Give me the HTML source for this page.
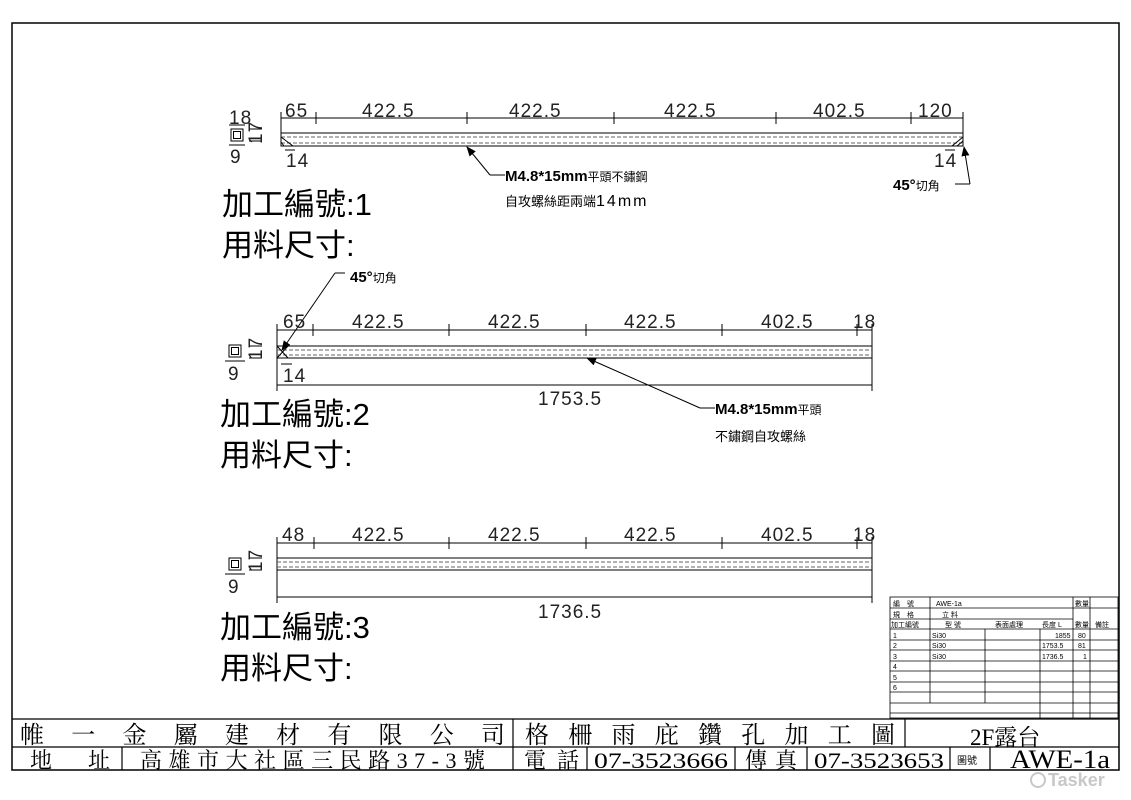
<!DOCTYPE html>
<html><head><meta charset="utf-8"><style>
html,body{margin:0;padding:0;background:#fff;}
svg{display:block;}
text{font-family:"Liberation Sans","Noto Sans CJK TC",sans-serif;fill:#000;}
.dim{font-size:19px;font-weight:300;letter-spacing:1px;fill:#222;}
.big{font-size:31px;font-family:"Liberation Sans","Noto Sans CJK TC",sans-serif;}
.serif{font-family:"Liberation Serif","Noto Serif CJK SC",serif;}
.t{font-size:7px;}
</style></head><body>
<svg width="1131" height="800" viewBox="0 0 1131 800" xmlns="http://www.w3.org/2000/svg">
<defs>
<marker id="ar" markerWidth="10" markerHeight="8" refX="9" refY="4" orient="auto" markerUnits="userSpaceOnUse"><path d="M0,0 L10,4 L0,8 z" fill="#000"/></marker>
</defs>
<rect x="12" y="23" width="1107" height="747" fill="none" stroke="#000" stroke-width="1.5"/>

<!-- PART 1 -->
<g stroke="#000" stroke-width="1" fill="none">
<line x1="281" y1="118" x2="963" y2="118"/>
<line x1="281" y1="112" x2="281" y2="146"/><line x1="316" y1="112" x2="316" y2="124"/>
<line x1="467" y1="112" x2="467" y2="124"/><line x1="614" y1="112" x2="614" y2="124"/>
<line x1="776" y1="112" x2="776" y2="124"/><line x1="911" y1="112" x2="911" y2="124"/>
<line x1="963" y1="112" x2="963" y2="146"/>
<rect x="281" y="133" width="682" height="13"/>
<line x1="281" y1="137" x2="963" y2="137" stroke-dasharray="4,2" stroke="#666"/>
<line x1="281" y1="143" x2="963" y2="143" stroke-dasharray="4,2" stroke="#666"/>
<path d="M281,137 L293,146 M952,146 L963,137 M284,146 L281,142 M957,146 L963,141" />
<line x1="285" y1="150" x2="295" y2="150"/><line x1="945" y1="150" x2="955" y2="150"/>
<rect x="231" y="129" width="12" height="12"/><rect x="233.5" y="131.5" width="7" height="7"/>
<line x1="229" y1="125" x2="245" y2="125"/><line x1="229" y1="145" x2="245" y2="145"/>
<line x1="249" y1="129" x2="262" y2="129"/><line x1="249" y1="141" x2="262" y2="141"/>
<line x1="505" y1="175" x2="490" y2="175"/>
<line x1="490" y1="175" x2="467" y2="147" marker-end="url(#ar)"/>
<line x1="955" y1="184" x2="970" y2="184"/>
<line x1="970" y1="184" x2="964" y2="147" marker-end="url(#ar)"/>
</g>
<text class="dim" x="285" y="117">65</text>
<text class="dim" x="362" y="117">422.5</text>
<text class="dim" x="509" y="117">422.5</text>
<text class="dim" x="664" y="117">422.5</text>
<text class="dim" x="813" y="117">402.5</text>
<text class="dim" x="918" y="117">120</text>
<text class="dim" x="229" y="124" font-size="18">18</text>
<text class="dim" x="230" y="163" font-size="18">9</text>
<text class="dim" font-size="18" transform="translate(262 144) rotate(-90)">17</text>
<text class="dim" x="286" y="167">14</text>
<text class="dim" x="934" y="167">14</text>
<text x="505" y="181" font-size="15" font-weight="bold">M4.8*15mm<tspan font-size="12" font-weight="normal">平頭不鏽鋼</tspan></text>
<text x="505" y="206" font-size="13">自攻螺絲距兩端<tspan font-size="16" letter-spacing="2">14mm</tspan></text>
<text x="893" y="190" font-size="15" font-weight="bold">45°<tspan font-size="12" font-weight="normal">切角</tspan></text>
<text class="big" x="222" y="215">加工編號:1</text>
<text class="big" x="222" y="256">用料尺寸:</text>

<!-- PART 2 -->
<g stroke="#000" stroke-width="1" fill="none">
<line x1="277" y1="330" x2="872" y2="330"/>
<line x1="277" y1="324" x2="277" y2="391"/><line x1="313" y1="324" x2="313" y2="336"/>
<line x1="449" y1="324" x2="449" y2="336"/><line x1="586" y1="324" x2="586" y2="336"/>
<line x1="722" y1="324" x2="722" y2="336"/><line x1="857" y1="324" x2="857" y2="336"/>
<line x1="872" y1="324" x2="872" y2="391"/>
<line x1="277" y1="385" x2="872" y2="385"/>
<rect x="277" y="346" width="595" height="12"/>
<line x1="277" y1="350" x2="872" y2="350" stroke-dasharray="4,2" stroke="#666"/>
<line x1="277" y1="355" x2="872" y2="355" stroke-dasharray="4,2" stroke="#666"/>
<path d="M277,346 L288,358 M277,358 L288,346"/>
<line x1="281" y1="364" x2="292" y2="364"/>
<rect x="229" y="345" width="12" height="12"/><rect x="231.5" y="347.5" width="7" height="7"/>
<line x1="225" y1="361" x2="245" y2="361"/>
<line x1="249" y1="346" x2="262" y2="346"/><line x1="249" y1="358" x2="262" y2="358"/>
<line x1="345" y1="273" x2="335" y2="273"/>
<line x1="335" y1="273" x2="282" y2="350" marker-end="url(#ar)"/>
<line x1="700" y1="408" x2="715" y2="408"/>
<line x1="700" y1="408" x2="587" y2="358" marker-end="url(#ar)"/>
</g>
<text class="dim" x="283" y="328">65</text>
<text class="dim" x="352" y="328">422.5</text>
<text class="dim" x="488" y="328">422.5</text>
<text class="dim" x="624" y="328">422.5</text>
<text class="dim" x="761" y="328">402.5</text>
<text class="dim" x="853" y="328">18</text>
<text class="dim" x="538" y="405">1753.5</text>
<text class="dim" x="283" y="382">14</text>
<text class="dim" x="228" y="380" font-size="18">9</text>
<text class="dim" font-size="18" transform="translate(262 360) rotate(-90)">17</text>
<text x="350" y="282" font-size="15" font-weight="bold">45°<tspan font-size="12" font-weight="normal">切角</tspan></text>
<text x="715" y="414" font-size="15" font-weight="bold">M4.8*15mm<tspan font-size="12" font-weight="normal">平頭</tspan></text>
<text x="715" y="441" font-size="13">不鏽鋼自攻螺絲</text>
<text class="big" x="220" y="425">加工編號:2</text>
<text class="big" x="220" y="466">用料尺寸:</text>

<!-- PART 3 -->
<g stroke="#000" stroke-width="1" fill="none">
<line x1="277" y1="543" x2="872" y2="543"/>
<line x1="277" y1="537" x2="277" y2="603"/><line x1="314" y1="537" x2="314" y2="549"/>
<line x1="449" y1="537" x2="449" y2="549"/><line x1="586" y1="537" x2="586" y2="549"/>
<line x1="722" y1="537" x2="722" y2="549"/><line x1="857" y1="537" x2="857" y2="549"/>
<line x1="872" y1="537" x2="872" y2="603"/>
<line x1="277" y1="597" x2="872" y2="597"/>
<rect x="277" y="558" width="595" height="12"/>
<line x1="277" y1="562" x2="872" y2="562" stroke-dasharray="4,2" stroke="#666"/>
<line x1="277" y1="567" x2="872" y2="567" stroke-dasharray="4,2" stroke="#666"/>
<rect x="229" y="558" width="12" height="12"/><rect x="231.5" y="560.5" width="7" height="7"/>
<line x1="225" y1="574" x2="245" y2="574"/>
<line x1="249" y1="558" x2="262" y2="558"/><line x1="249" y1="570" x2="262" y2="570"/>
</g>
<text class="dim" x="282" y="541">48</text>
<text class="dim" x="352" y="541">422.5</text>
<text class="dim" x="488" y="541">422.5</text>
<text class="dim" x="624" y="541">422.5</text>
<text class="dim" x="761" y="541">402.5</text>
<text class="dim" x="853" y="541">18</text>
<text class="dim" x="538" y="618">1736.5</text>
<text class="dim" x="228" y="593" font-size="18">9</text>
<text class="dim" font-size="18" transform="translate(262 572) rotate(-90)">17</text>
<text class="big" x="220" y="638">加工編號:3</text>
<text class="big" x="220" y="679">用料尺寸:</text>

<!-- TABLE -->
<g stroke="#000" stroke-width="0.8" fill="none">
<rect x="890" y="597" width="228" height="121"/>
<line x1="890" y1="608" x2="1118" y2="608"/>
<line x1="890" y1="619" x2="1073" y2="619"/>
<line x1="890" y1="629" x2="1118" y2="629"/>
<line x1="890" y1="640" x2="1118" y2="640"/>
<line x1="890" y1="650" x2="1118" y2="650"/>
<line x1="890" y1="661" x2="1118" y2="661"/>
<line x1="890" y1="671" x2="1118" y2="671"/>
<line x1="890" y1="682" x2="1118" y2="682"/>
<line x1="890" y1="692" x2="1118" y2="692"/>
<line x1="890" y1="703" x2="1118" y2="703"/>
<line x1="890" y1="713" x2="1118" y2="713"/>
<line x1="930" y1="597" x2="930" y2="703"/>
<line x1="985" y1="629" x2="985" y2="703"/>
<line x1="1040" y1="629" x2="1040" y2="718"/>
<line x1="1073" y1="597" x2="1073" y2="718"/>
<line x1="1090" y1="597" x2="1090" y2="718"/>
</g>
<g class="t">
<text class="t" x="893" y="606">編　號</text><text class="t" x="936" y="606">AWE-1a</text><text class="t" x="1075" y="606">數量</text>
<text class="t" x="893" y="617">規　格</text><text class="t" x="942" y="617">立 料</text>
<text class="t" x="891" y="627">加工編號</text><text class="t" x="945" y="627">型 號</text><text class="t" x="995" y="627">表面處理</text><text class="t" x="1042" y="627">長度 L</text><text class="t" x="1075" y="627">數量</text><text class="t" x="1095" y="627">備註</text>
<text class="t" x="893" y="638">1</text><text class="t" x="932" y="638">Si30</text><text class="t" x="1055" y="638">1855</text><text class="t" x="1078" y="638">80</text>
<text class="t" x="893" y="648">2</text><text class="t" x="932" y="648">Si30</text><text class="t" x="1042" y="648">1753.5</text><text class="t" x="1078" y="648">81</text>
<text class="t" x="893" y="659">3</text><text class="t" x="932" y="659">Si30</text><text class="t" x="1042" y="659">1736.5</text><text class="t" x="1083" y="659">1</text>
<text class="t" x="893" y="669">4</text><text class="t" x="893" y="680">5</text><text class="t" x="893" y="690">6</text>
</g>

<!-- TITLE BLOCK -->
<g stroke="#000" stroke-width="1.2" fill="none">
<line x1="12" y1="719" x2="1119" y2="719"/>
<line x1="12" y1="747" x2="1119" y2="747"/>
<line x1="513" y1="719" x2="513" y2="770"/>
<line x1="905" y1="719" x2="905" y2="747"/>
<line x1="122" y1="747" x2="122" y2="770"/>
<line x1="587" y1="747" x2="587" y2="770"/>
<line x1="735" y1="747" x2="735" y2="770"/>
<line x1="807" y1="747" x2="807" y2="770"/>
<line x1="950" y1="747" x2="950" y2="770"/>
<line x1="990" y1="747" x2="990" y2="770"/>
</g>
<text class="serif" x="20" y="743" font-size="24" textLength="485" lengthAdjust="spacing">帷一金屬建材有限公司</text>
<text class="serif" x="525" y="743" font-size="24" textLength="370" lengthAdjust="spacing">格柵雨庇鑽孔加工圖</text>
<text class="serif" x="970" y="745" font-size="23">2F露台</text>
<text class="serif" x="30" y="768" font-size="22" textLength="80" lengthAdjust="spacing">地址</text>
<text class="serif" x="140" y="768" font-size="22" textLength="345" lengthAdjust="spacing">高雄市大社區三民路37-3號</text>
<text class="serif" x="524" y="768" font-size="22" textLength="55" lengthAdjust="spacing">電話</text>
<text class="serif" x="594" y="768" font-size="22" textLength="134" lengthAdjust="spacingAndGlyphs">07-3523666</text>
<text class="serif" x="745" y="768" font-size="22" textLength="52" lengthAdjust="spacing">傳真</text>
<text class="serif" x="814" y="768" font-size="22" textLength="130" lengthAdjust="spacingAndGlyphs">07-3523653</text>
<text x="957" y="764" font-size="10">圖號</text>
<text class="serif" x="1010" y="768" font-size="26" textLength="100" lengthAdjust="spacingAndGlyphs">AWE-1a</text>
<text x="1048" y="786" font-size="18" font-weight="bold" style="fill:#c8c8c8">Tasker</text>
<circle cx="1038" cy="780" r="7" fill="none" stroke="#c8c8c8" stroke-width="2"/>
</svg>
</body></html>
